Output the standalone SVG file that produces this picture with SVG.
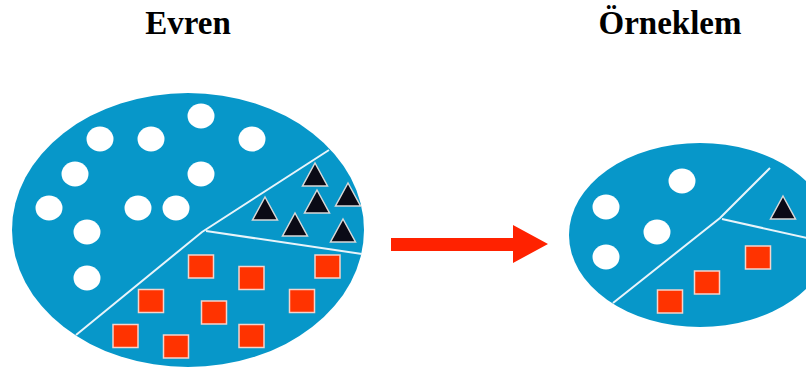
<svg xmlns="http://www.w3.org/2000/svg" width="806" height="369" viewBox="0 0 806 369">
  <defs>
    <style>
      .title { font-family: "Liberation Serif", "Times New Roman", serif; font-weight: bold; font-size: 33px; fill: #000; text-anchor: middle; }
      .pop { fill: #0797c9; }
      .div { stroke: #e8f4fa; stroke-width: 2; fill: none; }
      .dot { fill: #ffffff; }
      .tri { fill: #0a0a16; stroke: #d8d8d8; stroke-width: 1.5; stroke-linejoin: miter; }
      .sq { fill: #ff3300; stroke: #f4d4cc; stroke-width: 1.5; }
      .arrow { fill: #ff2200; }
    </style>
    <ellipse id="dot" class="dot" rx="13.5" ry="12.5"/>
    <polygon id="tri" class="tri" points="0,-12 12.5,11 -12.5,11"/>
    <rect id="sq" class="sq" x="-12.5" y="-11.5" width="25" height="23"/>
  </defs>

  <!-- population -->
  <g id="evren">
    <text class="title" x="188" y="34">Evren</text>
    <ellipse class="pop" cx="188" cy="230" rx="176" ry="137"/>
    <polyline class="div" points="76,335 202,232 329,150"/>
    <line class="div" x1="206" y1="231" x2="362" y2="254"/>
    <g id="evren-circles">
      <use href="#dot" x="201" y="116"/>
      <use href="#dot" x="100" y="139"/>
      <use href="#dot" x="151" y="139"/>
      <use href="#dot" x="252" y="139"/>
      <use href="#dot" x="75" y="174"/>
      <use href="#dot" x="201" y="174"/>
      <use href="#dot" x="49" y="208"/>
      <use href="#dot" x="138" y="208"/>
      <use href="#dot" x="176" y="208"/>
      <use href="#dot" x="87" y="232"/>
      <use href="#dot" x="87" y="278"/>
    </g>
    <g id="evren-triangles">
      <use href="#tri" x="315" y="175"/>
      <use href="#tri" x="348" y="195"/>
      <use href="#tri" x="317" y="202"/>
      <use href="#tri" x="265" y="209"/>
      <use href="#tri" x="295" y="225"/>
      <use href="#tri" x="343" y="231"/>
    </g>
    <g id="evren-squares">
      <use href="#sq" x="201" y="266.5"/>
      <use href="#sq" x="251.5" y="278"/>
      <use href="#sq" x="327.5" y="266.5"/>
      <use href="#sq" x="151" y="301"/>
      <use href="#sq" x="214" y="312.5"/>
      <use href="#sq" x="302" y="301"/>
      <use href="#sq" x="125.5" y="336"/>
      <use href="#sq" x="176" y="346.5"/>
      <use href="#sq" x="251.5" y="336"/>
    </g>
  </g>

  <!-- connector -->
  <g id="connectors">
    <polygon class="arrow" points="391,238 513,238 513,225 548,244 513,263 513,251 391,251"/>
  </g>

  <!-- sample -->
  <g id="orneklem">
    <text class="title" x="670" y="34">Örneklem</text>
    <ellipse class="pop" cx="700" cy="235" rx="131" ry="92"/>
    <polyline class="div" points="613,303 720,218 770,168"/>
    <line class="div" x1="722" y1="219" x2="807" y2="238"/>
    <g id="orneklem-circles">
      <use href="#dot" x="606" y="207"/>
      <use href="#dot" x="682" y="181"/>
      <use href="#dot" x="657" y="232"/>
      <use href="#dot" x="606" y="257"/>
    </g>
    <g id="orneklem-triangles">
      <use href="#tri" x="783" y="208"/>
    </g>
    <g id="orneklem-squares">
      <use href="#sq" x="670" y="301.5"/>
      <use href="#sq" x="707" y="282.5"/>
      <use href="#sq" x="758" y="257.5"/>
    </g>
  </g>
</svg>
